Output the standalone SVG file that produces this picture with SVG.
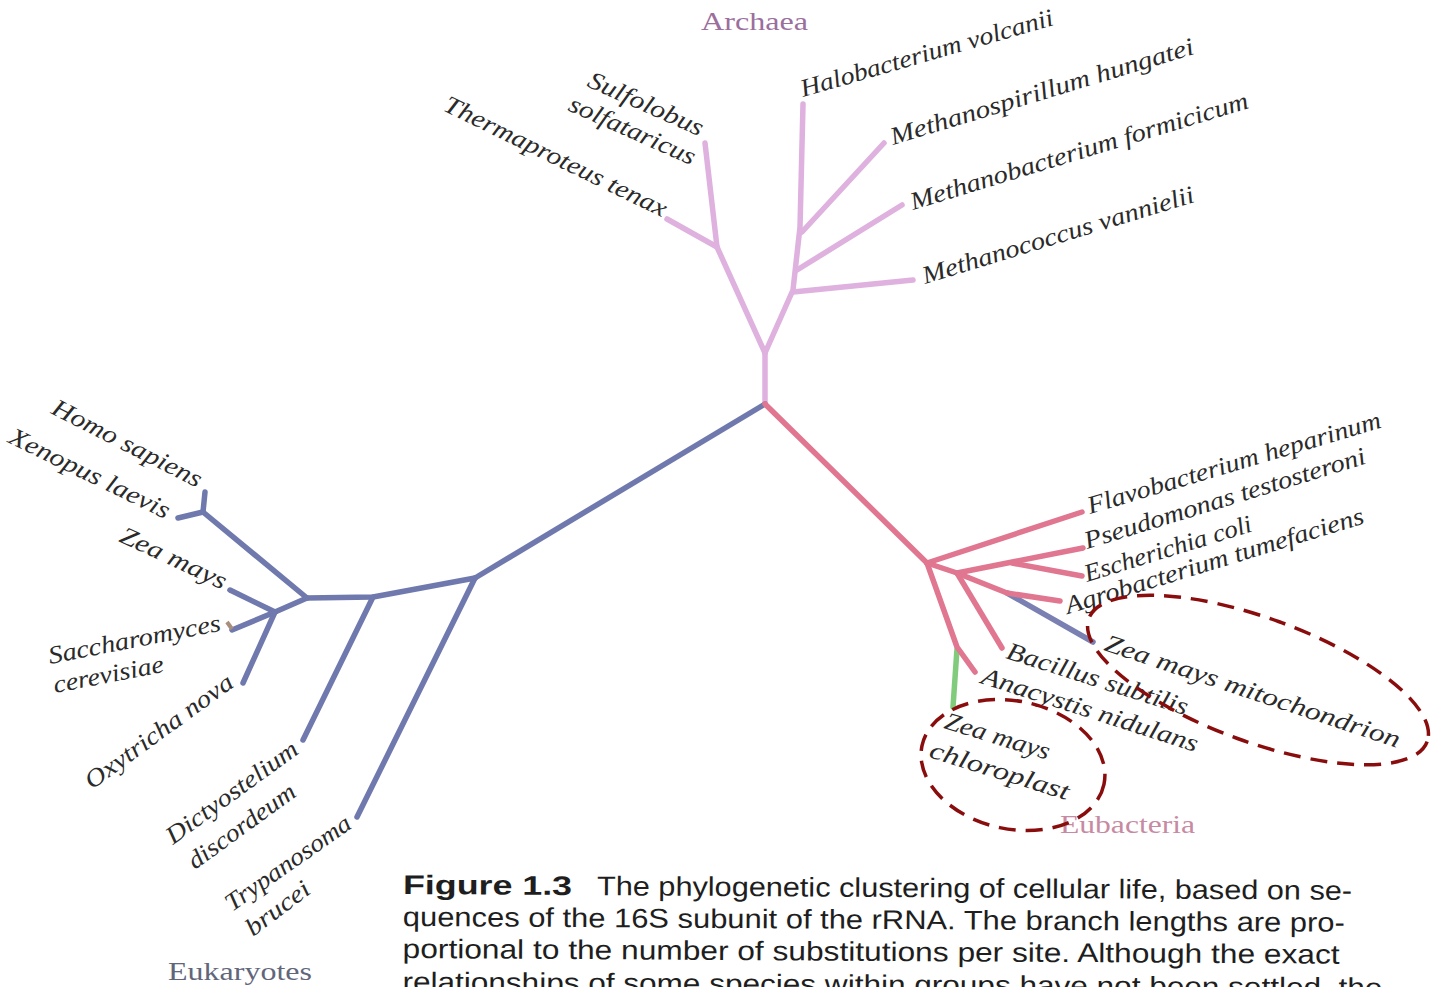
<svg xmlns="http://www.w3.org/2000/svg" width="1431" height="987" viewBox="0 0 1431 987">
<style>
.br{fill:none;stroke-width:5.5;stroke-linecap:round;stroke-linejoin:round}
.ar{stroke:#deb1df}
.eu{stroke:#e07690}
.ek{stroke:#6f79ad}
.mi{stroke:#7a80b2}
.gr{stroke:#80cc7c}
.lb{font-family:"Liberation Serif","Times New Roman",serif;font-style:italic;font-size:25px;fill:#2a2a2a}
.grp{font-family:"Liberation Serif","Times New Roman",serif;font-size:25px}
.cap{font-family:"Liberation Sans",Arial,sans-serif;font-size:27px;fill:#1e1e1e}
.ring{fill:none;stroke:#8a0d0d;stroke-width:3.5;stroke-dasharray:17 10}
</style>
<rect width="1431" height="987" fill="#ffffff"/>
<g id="connectors">
<path class="br ar" d="M765,404 L765,353"/>
<path class="br ar" d="M765,353 L717,247 L705,143"/>
<path class="br ar" d="M717,247 L667,219"/>
<path class="br ar" d="M765,353 L793,290 L800,227 L803,104"/>
<path class="br ar" d="M802,232 L884,143"/>
<path class="br ar" d="M797,270 L902,205"/>
<path class="br ar" d="M793,292 L913,280"/>
<path class="br ek" d="M765,404 L475,578"/>
<path class="br ek" d="M475,578 L357,817"/>
<path class="br ek" d="M475,578 L373,597 L307,598"/>
<path class="br ek" d="M373,597 L303,740"/>
<path class="br ek" d="M307,598 L203,512"/>
<path class="br ek" d="M203,512 L205,492"/>
<path class="br ek" d="M203,512 L178,518"/>
<path class="br ek" d="M307,598 L275,612"/>
<path class="br ek" d="M275,612 L230,590"/>
<path class="br ek" d="M275,612 L232,630"/>
<path class="br ek" d="M275,612 L243,683"/>
<path d="M227,622 L232,629" stroke="#a88f7c" stroke-width="4" fill="none"/>
<path class="br eu" d="M765,404 L927,563"/>
<path class="br eu" d="M927,563 L1082,512"/>
<path class="br gr" d="M957,649 L953,707"/>
<path class="br eu" d="M927,563 L957,647 L975,672"/>
<path class="br eu" d="M927,563 L957,573"/>
<path class="br eu" d="M957,573 L1083,548"/>
<path class="br eu" d="M1012,563 L1082,576"/>
<path class="br mi" d="M1007,593 L1093,642"/>
<path class="br eu" d="M957,573 L1007,593 L1060,601"/>
<path class="br eu" d="M957,573 L1002,648"/>
</g>
<g id="group-labels">
<text class="grp" x="701" y="30" textLength="107" lengthAdjust="spacingAndGlyphs" fill="#9b6f9d">Archaea</text>
<text class="grp" x="1060" y="833" textLength="135" lengthAdjust="spacingAndGlyphs" fill="#c78aa3">Eubacteria</text>
<text class="grp" x="168" y="980" textLength="144" lengthAdjust="spacingAndGlyphs" fill="#62667a">Eukaryotes</text>
</g>
<g id="archaea">
<text class="lb" transform="translate(803,97) rotate(-16)" textLength="262" lengthAdjust="spacingAndGlyphs">Halobacterium volcanii</text>
<text class="lb" transform="translate(893,145) rotate(-16.8)" textLength="316" lengthAdjust="spacingAndGlyphs">Methanospirillum hungatei</text>
<text class="lb" transform="translate(913,210) rotate(-16.9)" textLength="352" lengthAdjust="spacingAndGlyphs">Methanobacterium formicicum</text>
<text class="lb" transform="translate(925,284) rotate(-16.9)" textLength="283" lengthAdjust="spacingAndGlyphs">Methanococcus vannielii</text>
<text class="lb" transform="translate(586,86) rotate(24)" textLength="124" lengthAdjust="spacingAndGlyphs">Sulfolobus</text>
<text class="lb" transform="translate(567,110) rotate(24)" textLength="136" lengthAdjust="spacingAndGlyphs">solfataricus</text>
<text class="lb" transform="translate(442,110) rotate(26)" textLength="245" lengthAdjust="spacingAndGlyphs">Thermaproteus tenax</text>
</g>
<g id="eukaryotes">
<text class="lb" transform="translate(50,413) rotate(27)" textLength="165" lengthAdjust="spacingAndGlyphs">Homo sapiens</text>
<text class="lb" transform="translate(7,442) rotate(26)" textLength="176" lengthAdjust="spacingAndGlyphs">Xenopus laevis</text>
<text class="lb" transform="translate(118,541) rotate(25)" textLength="115" lengthAdjust="spacingAndGlyphs">Zea mays</text>
<text class="lb" transform="translate(50,664) rotate(-11)" textLength="175" lengthAdjust="spacingAndGlyphs">Saccharomyces</text>
<text class="lb" transform="translate(55,693) rotate(-11)" textLength="112" lengthAdjust="spacingAndGlyphs">cerevisiae</text>
<text class="lb" transform="translate(92,790) rotate(-36)" textLength="177" lengthAdjust="spacingAndGlyphs">Oxytricha nova</text>
<text class="lb" transform="translate(173,845) rotate(-36)" textLength="157" lengthAdjust="spacingAndGlyphs">Dictyostelium</text>
<text class="lb" transform="translate(195,870) rotate(-36)" textLength="127" lengthAdjust="spacingAndGlyphs">discordeum</text>
<text class="lb" transform="translate(232,912) rotate(-35)" textLength="148" lengthAdjust="spacingAndGlyphs">Trypanosoma</text>
<text class="lb" transform="translate(253,937) rotate(-37)" textLength="74" lengthAdjust="spacingAndGlyphs">brucei</text>
</g>
<g id="eubacteria">
<text class="lb" transform="translate(1090,514) rotate(-16.5)" textLength="305" lengthAdjust="spacingAndGlyphs">Flavobacterium heparinum</text>
<text class="lb" transform="translate(1087,549) rotate(-17)" textLength="293" lengthAdjust="spacingAndGlyphs">Pseudomonas testosteroni</text>
<text class="lb" transform="translate(1087,582) rotate(-17)" textLength="174" lengthAdjust="spacingAndGlyphs">Escherichia coli</text>
<text class="lb" transform="translate(1068,614) rotate(-17)" textLength="311" lengthAdjust="spacingAndGlyphs">Agrobacterium tumefaciens</text>
<text class="lb" transform="translate(1103,650) rotate(18.4)" textLength="310" lengthAdjust="spacingAndGlyphs">Zea mays mitochondrion</text>
<text class="lb" transform="translate(1005,658) rotate(17.6)" textLength="189" lengthAdjust="spacingAndGlyphs">Bacillus subtilis</text>
<text class="lb" transform="translate(980,683) rotate(17.8)" textLength="226" lengthAdjust="spacingAndGlyphs">Anacystis nidulans</text>
<text class="lb" transform="translate(943,728) rotate(17)" textLength="109" lengthAdjust="spacingAndGlyphs">Zea mays</text>
<text class="lb" transform="translate(928,757) rotate(17.3)" textLength="145" lengthAdjust="spacingAndGlyphs">chloroplast</text>
</g>
<g id="highlights">
<ellipse class="ring" cx="1258" cy="680" rx="180" ry="62" transform="rotate(20 1258 680)"/>
<ellipse class="ring" cx="1013" cy="765" rx="93" ry="64" transform="rotate(12 1013 765)"/>
</g>
<g id="caption" transform="rotate(0.35 403 894)">
<text class="cap" x="403" y="894" font-weight="bold" textLength="169" lengthAdjust="spacingAndGlyphs">Figure 1.3</text>
<text class="cap" x="597" y="894" textLength="755" lengthAdjust="spacingAndGlyphs">The phylogenetic clustering of cellular life, based on se-</text>
<text class="cap" x="403" y="926" textLength="942" lengthAdjust="spacingAndGlyphs">quences of the 16S subunit of the rRNA. The branch lengths are pro-</text>
<text class="cap" x="403" y="958" textLength="937" lengthAdjust="spacingAndGlyphs">portional to the number of substitutions per site. Although the exact</text>
<text class="cap" x="403" y="991" textLength="980" lengthAdjust="spacingAndGlyphs">relationships of some species within groups have not been settled, the</text>
</g>
</svg>
